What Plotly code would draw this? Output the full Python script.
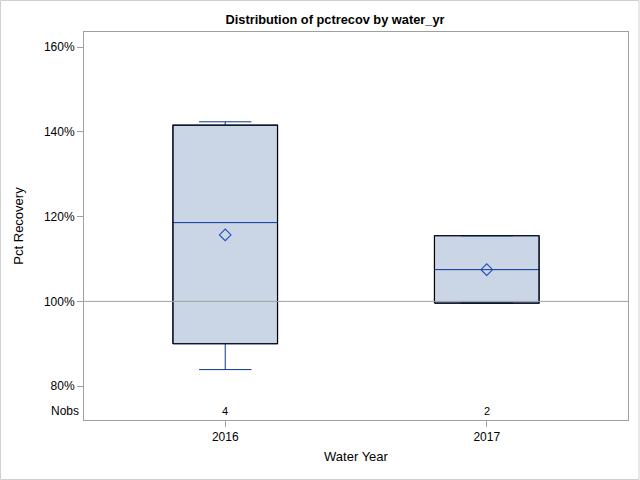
import plotly.graph_objects as go

# ---- data ----
years = ["2016", "2017"]
q1 = [90.0, 99.6]
median = [118.6, 107.5]
q3 = [141.6, 115.5]
lower = [83.9, 99.6]
upper = [142.4, 115.5]
means = [115.7, 107.5]
nobs = [4, 2]
ytick_vals = [80, 100, 120, 140, 160]
ytick_text = [f"{v}%" for v in ytick_vals]
ref_value = 100

FILL = "#CAD5E6"
BLUE = "#0A3596"
GRAY = "#A0A0A0"
BOXW = 0.40
FONT = "Liberation Sans, Arial, sans-serif"

xpos = list(range(len(years)))

fig = go.Figure()
for i, yr in enumerate(years):
    fig.add_trace(go.Box(
        x=[xpos[i]], q1=[q1[i]], median=[median[i]], q3=[q3[i]],
        lowerfence=[lower[i]], upperfence=[upper[i]],
        width=BOXW, whiskerwidth=0.5,
        fillcolor=FILL, line=dict(color=BLUE, width=1),
        boxpoints=False, showlegend=False, hoverinfo="skip",
    ))
    c = xpos[i]
    fig.add_trace(go.Scatter(
        x=[c - BOXW / 2, c + BOXW / 2, c + BOXW / 2, c - BOXW / 2, c - BOXW / 2],
        y=[q1[i], q1[i], q3[i], q3[i], q1[i]],
        mode="lines", line=dict(color="black", width=1.2),
        showlegend=False, hoverinfo="skip",
    ))

fig.add_trace(go.Scatter(
    x=xpos, y=means, mode="markers",
    marker=dict(symbol="diamond-open", size=9, color="#1F4FB8", line=dict(width=1.1)),
    showlegend=False, hoverinfo="skip",
))

fig.add_hline(y=ref_value, line=dict(color=GRAY, width=1), layer="above")

for i, n in enumerate(nobs):
    fig.add_annotation(x=xpos[i], y=74.1, xref="x", yref="y", text=str(n),
                       showarrow=False, font=dict(size=11, color="black"))
fig.add_annotation(x=0, y=74.1, xref="paper", yref="y", text="Nobs",
                   xanchor="right", xshift=-3, showarrow=False,
                   font=dict(size=12, color="black"))

fig.add_shape(type="rect", xref="paper", yref="paper",
              x0=-83.5 / 544, x1=(639 - 84) / 544, y0=-(479.5 - 420) / 388, y1=1 + 31.5 / 388,
              line=dict(color="#D0D0D0", width=1), layer="below")

fig.update_layout(
    width=640, height=480,
    margin=dict(l=84, r=12, t=32, b=60, autoexpand=False),
    paper_bgcolor="white", plot_bgcolor="white",
    font=dict(family=FONT, size=12, color="black"),
    title=dict(text="<b>Distribution of pctrecov by water_yr</b>", x=335 / 640, xanchor="center",
               y=1 - 20 / 480, yanchor="middle", font=dict(size=12.8, family=FONT)),
)
fig.update_xaxes(
    range=[-0.54, 1.54], tickvals=xpos, ticktext=years, automargin=False,
    showgrid=False, zeroline=False, showline=True, mirror=True,
    linecolor=GRAY, linewidth=1, ticks="outside", ticklen=6, tickcolor=GRAY,
    title=dict(text="Water Year", font=dict(size=13), standoff=8),
)
fig.update_yaxes(
    range=[72.0, 163.6], tickvals=ytick_vals, ticktext=ytick_text, automargin=False,
    showgrid=False, zeroline=False, showline=True, mirror=True,
    linecolor=GRAY, linewidth=1, ticks="outside", ticklen=6, tickcolor=GRAY,
    title=dict(text="Pct Recovery", font=dict(size=13), standoff=17),
)

fig.write_html("out.html", config={"displayModeBar": False},
               post_script="document.body.style.margin='0';document.body.style.overflow='hidden';")
